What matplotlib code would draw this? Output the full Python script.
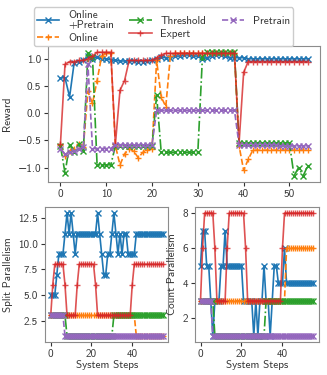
import matplotlib
matplotlib.use('Agg')
import matplotlib.pyplot as plt
import numpy as np

# reward curves, steps 0..54
reward_steps = np.arange(55)
reward_online_pretrain = [0.65, 0.65, 0.3, 0.93, 0.95, 0.97, 1.05, 1.0, 1.03, 1.0,
                          1.0, 0.98, 0.97, 0.96, 0.96, 0.96, 0.96, 0.95, 0.95, 0.96,
                          0.97, 1.0, 1.03, 1.02, 1.02, 1.05, 1.05, 1.07, 1.07, 1.05,
                          1.05, 1.0, 1.02, 1.05, 1.07, 1.07, 1.05, 1.02, 1.02, 1.02,
                          1.02, 1.0, 1.0, 1.0, 1.0, 1.0, 1.0, 1.0, 1.0, 1.0,
                          1.0, 1.0, 1.0, 1.0, 1.0]
reward_online = [-0.58, -0.78, -0.7, -0.65, -0.57, -0.62, 0.4, 0.18, 0.6, 1.05,
                 1.1, 1.1, -0.6, -0.95, -0.75, -0.65, -0.7, -0.82, -0.72, -0.67,
                 -0.65, 0.97, 0.3, 0.12, 1.05, 1.1, 1.1, 1.1, 1.1, 1.1,
                 1.1, 1.1, 1.1, 1.1, 1.1, 1.1, 1.1, 1.1, 1.1, -0.6,
                 -1.05, -0.85, -0.68, -0.68, -0.68, -0.68, -0.68, -0.68, -0.68, -0.68,
                 -0.68, -0.68, -0.68, -0.68, -0.68]
reward_threshold = [-0.6, -1.1, -0.58, -0.72, -0.57, -0.7, 1.1, 1.03, -0.95, -0.95,
                    -0.95, -0.95, -0.6, -0.6, -0.6, -0.6, -0.6, -0.6, -0.6, -0.6,
                    -0.6, 0.33, -0.72, -0.72, -0.72, -0.72, -0.72, -0.72, -0.72, -0.72,
                    -0.72, 1.03, 1.12, 1.12, 1.12, 1.12, 1.12, 1.12, 1.12, -0.55,
                    -0.55, -0.55, -0.55, -0.55, -0.55, -0.55, -0.55, -0.55, -0.55, -0.55,
                    -0.55, -1.15, -1.0, -1.15, -0.97]
reward_expert = [-0.57, 0.9, 0.95, 0.95, 0.97, 0.97, 1.0, 1.05, 1.12, 1.12,
                 1.12, 1.12, -0.57, 0.42, 0.6, 0.97, 0.97, 0.97, 0.97, 0.97,
                 0.97, 1.02, 1.07, 1.1, 1.1, 1.1, 1.1, 1.1, 1.1, 1.1,
                 1.1, 1.1, 1.1, 1.1, 1.1, 1.1, 1.1, 1.1, 1.1, -0.55,
                 0.75, 0.95, 0.95, 0.95, 0.95, 0.95, 0.95, 0.95, 0.95, 0.95,
                 0.95, 0.95, 0.95, 0.95, 0.95]
reward_pretrain = [-0.65, -0.75, -0.72, -0.7, -0.65, -0.62, 0.9, -0.65, -0.65, -0.65,
                   -0.65, -0.65, -0.58, -0.58, -0.58, -0.58, -0.58, -0.58, -0.58, -0.58,
                   -0.58, 0.05, 0.05, 0.05, 0.05, 0.05, 0.05, 0.05, 0.05, 0.05,
                   0.05, 0.05, 0.05, 0.05, 0.05, 0.05, 0.05, 0.05, 0.05, -0.58,
                   -0.58, -0.58, -0.58, -0.58, -0.58, -0.58, -0.58, -0.58, -0.6, -0.6,
                   -0.6, -0.6, -0.6, -0.6, -0.6]

# parallelism, steps 0..55
par_steps = np.arange(56)
split_online_pretrain = [5, 5, 5, 7, 9, 9, 9, 11, 13, 11, 13, 11, 9, 11, 11, 11, 11, 11, 11, 11,
                         11, 11, 11, 13, 11, 9, 7, 7, 9, 9, 11, 13, 11, 9, 11, 9, 11, 11, 9, 9,
                         9, 9, 11, 11, 11, 11, 11, 11, 11, 11, 11, 11, 11, 11, 11, 11]
split_online = [3] * 42 + [1] * 14
split_threshold = [3] * 8 + [1] * 23 + [3] * 25
split_expert = [3, 6, 8, 8, 8, 8, 8, 6, 3, 3, 3, 3, 3, 6, 8, 8, 8, 8, 8, 8,
                8, 8, 6, 3, 3, 3, 3, 3, 3, 3, 3, 3, 3, 3, 3, 3, 3, 3, 3, 3,
                6, 8, 8, 8, 8, 8, 8, 8, 8, 8, 8, 8, 8, 8, 8, 8]
split_pretrain = [3] * 7 + [1] * 49

count_online_pretrain = [5, 7, 7, 5, 5, 3, 1, 3, 3, 3, 5, 5, 7, 5, 5, 5, 5, 5, 5, 5,
                         5, 3, 3, 3, 3, 3, 1, 3, 1, 3, 3, 5, 3, 3, 1, 3, 5, 5, 4, 4,
                         4, 6, 4, 4, 4, 4, 4, 4, 4, 4, 4, 4, 4, 4, 4, 4]
count_online = [3] * 42 + [6] * 14
count_threshold = [3] * 7 + [1] * 25 + [3] * 24
count_expert = [3, 6, 8, 8, 8, 8, 8, 6, 3, 3, 3, 3, 3, 6, 8, 8, 8, 8, 8, 8,
                8, 8, 6, 3, 3, 3, 3, 3, 3, 3, 3, 3, 3, 3, 3, 3, 3, 3, 3, 3,
                6, 8, 8, 8, 8, 8, 8, 8, 8, 8, 8, 8, 8, 8, 8, 8]
count_pretrain = [3] * 6 + [1] * 50

labels = ['Online\n+Pretrain', 'Online', 'Threshold', 'Expert', 'Pretrain']
styles = [dict(color='C0', marker='x', ls='-'),
          dict(color='C1', marker='+', ls='--'),
          dict(color='C2', marker='x', ls='-.'),
          dict(color='C3', marker='+', ls='-', alpha=0.8),
          dict(color='C4', marker='x', ls='--')]

# computer modern sans like the latex original, minus sign comes from DejaVu
plt.rcParams['font.family'] = ['cmss10', 'DejaVu Sans']
plt.rcParams['axes.formatter.use_mathtext'] = False
plt.rcParams['font.size'] = 8
plt.rcParams['axes.edgecolor'] = '0.55'
plt.rcParams['text.color'] = '0.2'
plt.rcParams['xtick.color'] = '0.2'
plt.rcParams['ytick.color'] = '0.2'
plt.rcParams['axes.labelcolor'] = '0.2'

fig = plt.figure(figsize=(3.27, 3.75), dpi=100)
ax_r = fig.add_axes([0.147, 0.515, 0.832, 0.362])
ax_s = fig.add_axes([0.138, 0.088, 0.377, 0.36])
ax_c = fig.add_axes([0.596, 0.088, 0.379, 0.36])


def draw(ax, x, series):
    for y, lab, st in zip(series, labels, styles):
        ax.plot(x, y, label=lab, lw=1.2, ms=4, **st)


draw(ax_r, reward_steps, [reward_online_pretrain, reward_online, reward_threshold,
                          reward_expert, reward_pretrain])
draw(ax_s, par_steps, [split_online_pretrain, split_online, split_threshold,
                       split_expert, split_pretrain])
draw(ax_c, par_steps, [count_online_pretrain, count_online, count_threshold,
                       count_expert, count_pretrain])

ax_r.set_ylabel('Reward')
ax_r.set_yticks([-1.0, -0.5, 0.0, 0.5, 1.0])
ax_r.set_xticks([0, 10, 20, 30, 40, 50])

ax_s.set_ylabel('Split Parallelism')
ax_s.set_xlabel('System Steps', labelpad=1)
ax_s.set_yticks([2.5, 5.0, 7.5, 10.0, 12.5])
ax_s.set_xticks([0, 20, 40])

ax_c.set_ylabel('Count Parallelism')
ax_c.set_xlabel('System Steps', labelpad=1)
ax_c.set_yticks([2, 4, 6, 8])
ax_c.set_xticks([0, 20, 40])

for ax in (ax_r, ax_s, ax_c):
    ax.tick_params(length=3, width=0.8, pad=2)

handles, labs = ax_r.get_legend_handles_labels()
leg = fig.legend(handles, labs, loc='upper center', bbox_to_anchor=(0.5, 0.995), ncol=3,
                 fontsize=8, handlelength=2.0, columnspacing=1.4, labelspacing=0.3,
                 borderpad=0.25, handletextpad=0.8, framealpha=1.0)
leg.get_texts()[0].set_linespacing(0.95)

fig.savefig('out.png', dpi=100)
